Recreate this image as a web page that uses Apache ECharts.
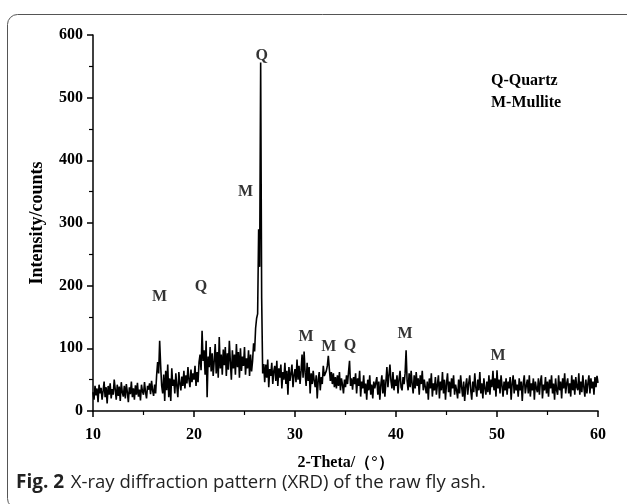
<!DOCTYPE html>
<html><head><meta charset="utf-8">
<script src="https://cdn.jsdelivr.net/npm/echarts@6/dist/echarts.min.js"></script>
<style>html,body{margin:0;padding:0;background:#fff}#c{width:627px;height:504px}</style>
</head><body><div id="c"></div>
<script>
// sampling grid of the pattern (degrees 2-theta)
const angleStart = 10;
const angleStep = 0.1;
const intensity = [
 30,18,40,25,36,14,42,28,37,18,
 32,47,22,38,12,40,26,44,20,35,
 26,50,35,18,42,24,39,16,46,30,
 23,40,20,43,30,14,38,27,47,22,
 36,18,41,26,45,23,34,17,42,31,
 26,46,30,20,40,34,44,27,48,33,
 24,42,28,57,78,60,112,72,40,28,
 58,16,64,33,74,22,52,16,68,40,
 50,28,60,40,22,62,44,33,55,40,
 64,36,57,44,70,50,38,66,46,60,
 50,72,40,62,46,78,90,65,128,80,
 97,58,112,22,87,70,102,63,92,56,
 80,107,60,94,53,118,68,90,58,98,
 73,102,56,92,66,112,78,50,97,68,
 90,58,107,70,94,53,100,64,87,72,
 102,58,84,68,97,56,90,63,80,108,
 95,132,148,155,290,230,556,180,60,75,
 46,74,53,82,38,67,56,77,43,64,
 72,48,80,40,68,53,74,36,62,50,
 77,43,64,26,70,48,60,74,38,57,
 67,46,82,50,72,43,64,90,53,95,
 62,40,77,48,70,28,60,43,64,48,
 38,57,20,50,62,33,54,43,72,56,
 53,64,72,88,67,48,62,43,60,38,
 54,36,57,40,62,33,52,42,28,50,
 38,57,43,62,80,40,52,34,54,43,
 60,28,52,40,64,23,47,36,57,28,
 44,18,50,33,57,26,42,20,47,36,
 33,54,26,47,18,42,57,28,50,23,
 47,70,38,57,74,48,36,62,33,50,
 40,57,28,50,64,38,33,54,43,60,
 97,48,33,60,38,64,43,28,57,36,
 62,40,52,26,57,43,64,33,50,38,
 28,47,18,52,36,60,23,44,33,54,
 26,42,57,20,47,33,62,28,50,18,
 44,60,30,47,23,52,36,57,26,42,
 33,20,50,28,57,38,23,47,16,40,
 52,26,44,57,33,18,47,30,60,38,
 23,50,33,62,28,44,20,52,36,26,
 47,30,57,26,50,38,64,33,52,23,
 65,36,50,28,57,40,23,47,33,52,
 26,47,36,54,18,44,57,28,50,33,
 42,23,52,33,47,16,44,57,28,40,
 50,28,57,23,44,33,52,18,47,36,
 30,52,26,47,57,20,42,33,54,28,
 47,23,50,36,57,28,44,18,52,33,
 26,57,33,47,20,52,36,60,28,44,
 52,28,44,23,57,33,50,26,54,38,
 33,60,26,47,30,57,38,23,50,28,
 44,57,28,52,36,47,26,54,38,56,
 45
];
// peak annotations
const annoText = ['M','Q','M','Q','M','M','Q','M','M'];
const annoX    = [16.6, 20.7, 25.1, 26.7, 31.1, 33.35, 35.45, 40.9, 50.1];
const annoY    = [182, 198, 350, 566, 118, 103, 104, 123, 88];
const legendLines = ['Q-Quartz', 'M-Mullite'];
const xTitle = '2-Theta/（°）';
const yTitle = 'Intensity/counts';
const captionBold = 'Fig. 2';
const captionText = 'X-ray diffraction pattern (XRD) of the raw fly ash.';

const serif = '"Liberation Serif","Times New Roman",serif';
const lineData = intensity.map((v, i) => [angleStart + i * angleStep, v]);
const annoData = annoText.map((t, i) => ({ value: [annoX[i], annoY[i]], name: t }));

const chart = echarts.init(document.getElementById('c'));
const axisCommon = {
  axisLine: { show: true, onZero: false, lineStyle: { color: '#000', width: 1.5 } },
  axisTick: { show: true, inside: false, length: 6, lineStyle: { color: '#000', width: 1.5 } },
  minorTick: { show: true, splitNumber: 2, length: 4, lineStyle: { color: '#000', width: 1.2 } },
  splitLine: { show: false },
  axisLabel: { color: '#000', fontFamily: serif, fontWeight: 'bold', fontSize: 16 },
  nameTextStyle: { color: '#000', fontFamily: serif, fontWeight: 'bold', fontSize: 16 }
};
chart.setOption({
  animation: false,
  grid: { left: 93, right: 29, top: 35, bottom: 93 },
  xAxis: Object.assign({}, axisCommon, {
    type: 'value', min: 10, max: 60, interval: 10,
    name: xTitle, nameLocation: 'middle', nameGap: 44,
    axisLabel: Object.assign({}, axisCommon.axisLabel, { margin: 16 })
  }),
  yAxis: Object.assign({}, axisCommon, {
    type: 'value', min: 0, max: 600, interval: 100,
    name: yTitle, nameLocation: 'middle', nameGap: 47,
    nameTextStyle: Object.assign({}, axisCommon.nameTextStyle, { fontSize: 18 }),
    axisLabel: Object.assign({}, axisCommon.axisLabel, { margin: 10 })
  }),
  series: [
    { type: 'line', data: lineData, showSymbol: false, symbol: 'none',
      lineStyle: { color: '#000', width: 1.6 }, silent: true },
    { type: 'scatter', data: annoData, symbolSize: 0, silent: true,
      label: { show: true, position: 'inside', formatter: p => p.name,
        color: '#000', fontFamily: serif, fontWeight: 'bold', fontSize: 16 } }
  ],
  graphic: [
    { type: 'rect', shape: { x: 7.5, y: 14.5, width: 640, height: 494, r: 10 },
      style: { fill: 'none', stroke: '#555', lineWidth: 1 }, silent: true },
    { type: 'text', left: 491, top: 70,
      style: { text: legendLines.join('\n'), fill: '#000', font: 'bold 16px ' + serif, lineHeight: 22 } },
    { type: 'text', left: 16, top: 473,
      style: { text: '{a|' + captionBold + '}  {b|' + captionText + '}',
        rich: {
          a: { fontFamily: '"Open Sans","Noto Sans",sans-serif', fontWeight: 'bold', fontSize: 19, fill: '#222' },
          b: { fontFamily: '"Open Sans","Noto Sans",sans-serif', fontSize: 18.5, fill: '#222' }
        } } }
  ]
});
</script></body></html>
